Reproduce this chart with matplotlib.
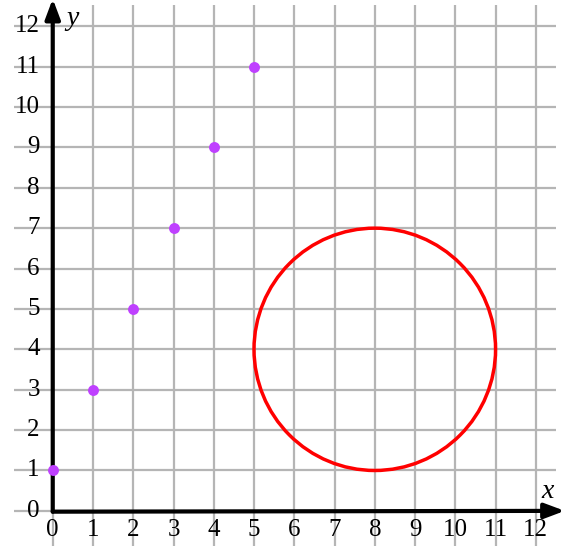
import matplotlib
matplotlib.use("Agg")
import matplotlib.pyplot as plt
from matplotlib.patches import Circle

# data
point_x = [0, 1, 2, 3, 4, 5]
point_y = [1, 3, 5, 7, 9, 11]
circle_center = (8, 4)
circle_radius = 3
x_ticks = list(range(0, 13))
y_ticks = list(range(0, 13))

plt.rcParams['font.family'] = ['Liberation Serif', 'DejaVu Serif']

fig = plt.figure(figsize=(5.64, 5.46), dpi=100)
ax = fig.add_axes([0, 0, 1, 1])
ax.set_xlim(-1.31, 12.70)
ax.set_ylim(-0.87, 12.65)
ax.axis('off')

grid_kw = dict(color='#b5b5b5', lw=1.6, zorder=1, solid_capstyle='butt')
for x in x_ticks:
    ax.plot([x, x], [-0.9, 12.52], **grid_kw)
for y in y_ticks:
    ax.plot([-0.97, 12.5], [y, y], **grid_kw)

# axes with arrows
arrow_kw = dict(arrowstyle='-|>,head_length=1.2,head_width=0.45', color='black', lw=3,
                shrinkA=0, shrinkB=0)
ax.annotate('', xy=(12.72, 0), xytext=(0, -0.02), arrowprops=arrow_kw,
            annotation_clip=False, zorder=3)
ax.annotate('', xy=(0, 12.68), xytext=(0, -0.02), arrowprops=arrow_kw,
            annotation_clip=False, zorder=3)

for x in x_ticks:
    ax.text(x, -0.47, str(x), ha='center', va='center', fontsize=18, zorder=4)
for y in y_ticks:
    ax.text(-0.32, y, str(y), ha='right', va='center', fontsize=18, zorder=4)

ax.text(12.29, 0.47, 'x', ha='center', va='center', fontsize=20, style='italic', zorder=4)
ax.text(0.48, 12.2, 'y', ha='center', va='center', fontsize=20, style='italic', zorder=4)

ax.add_patch(Circle(circle_center, circle_radius, fill=False, ec='#ff0000', lw=2.5, zorder=2))
ax.scatter(point_x, point_y, s=62, color='#bf40ff', zorder=5, linewidths=0)

fig.savefig('out.png', dpi=100)
